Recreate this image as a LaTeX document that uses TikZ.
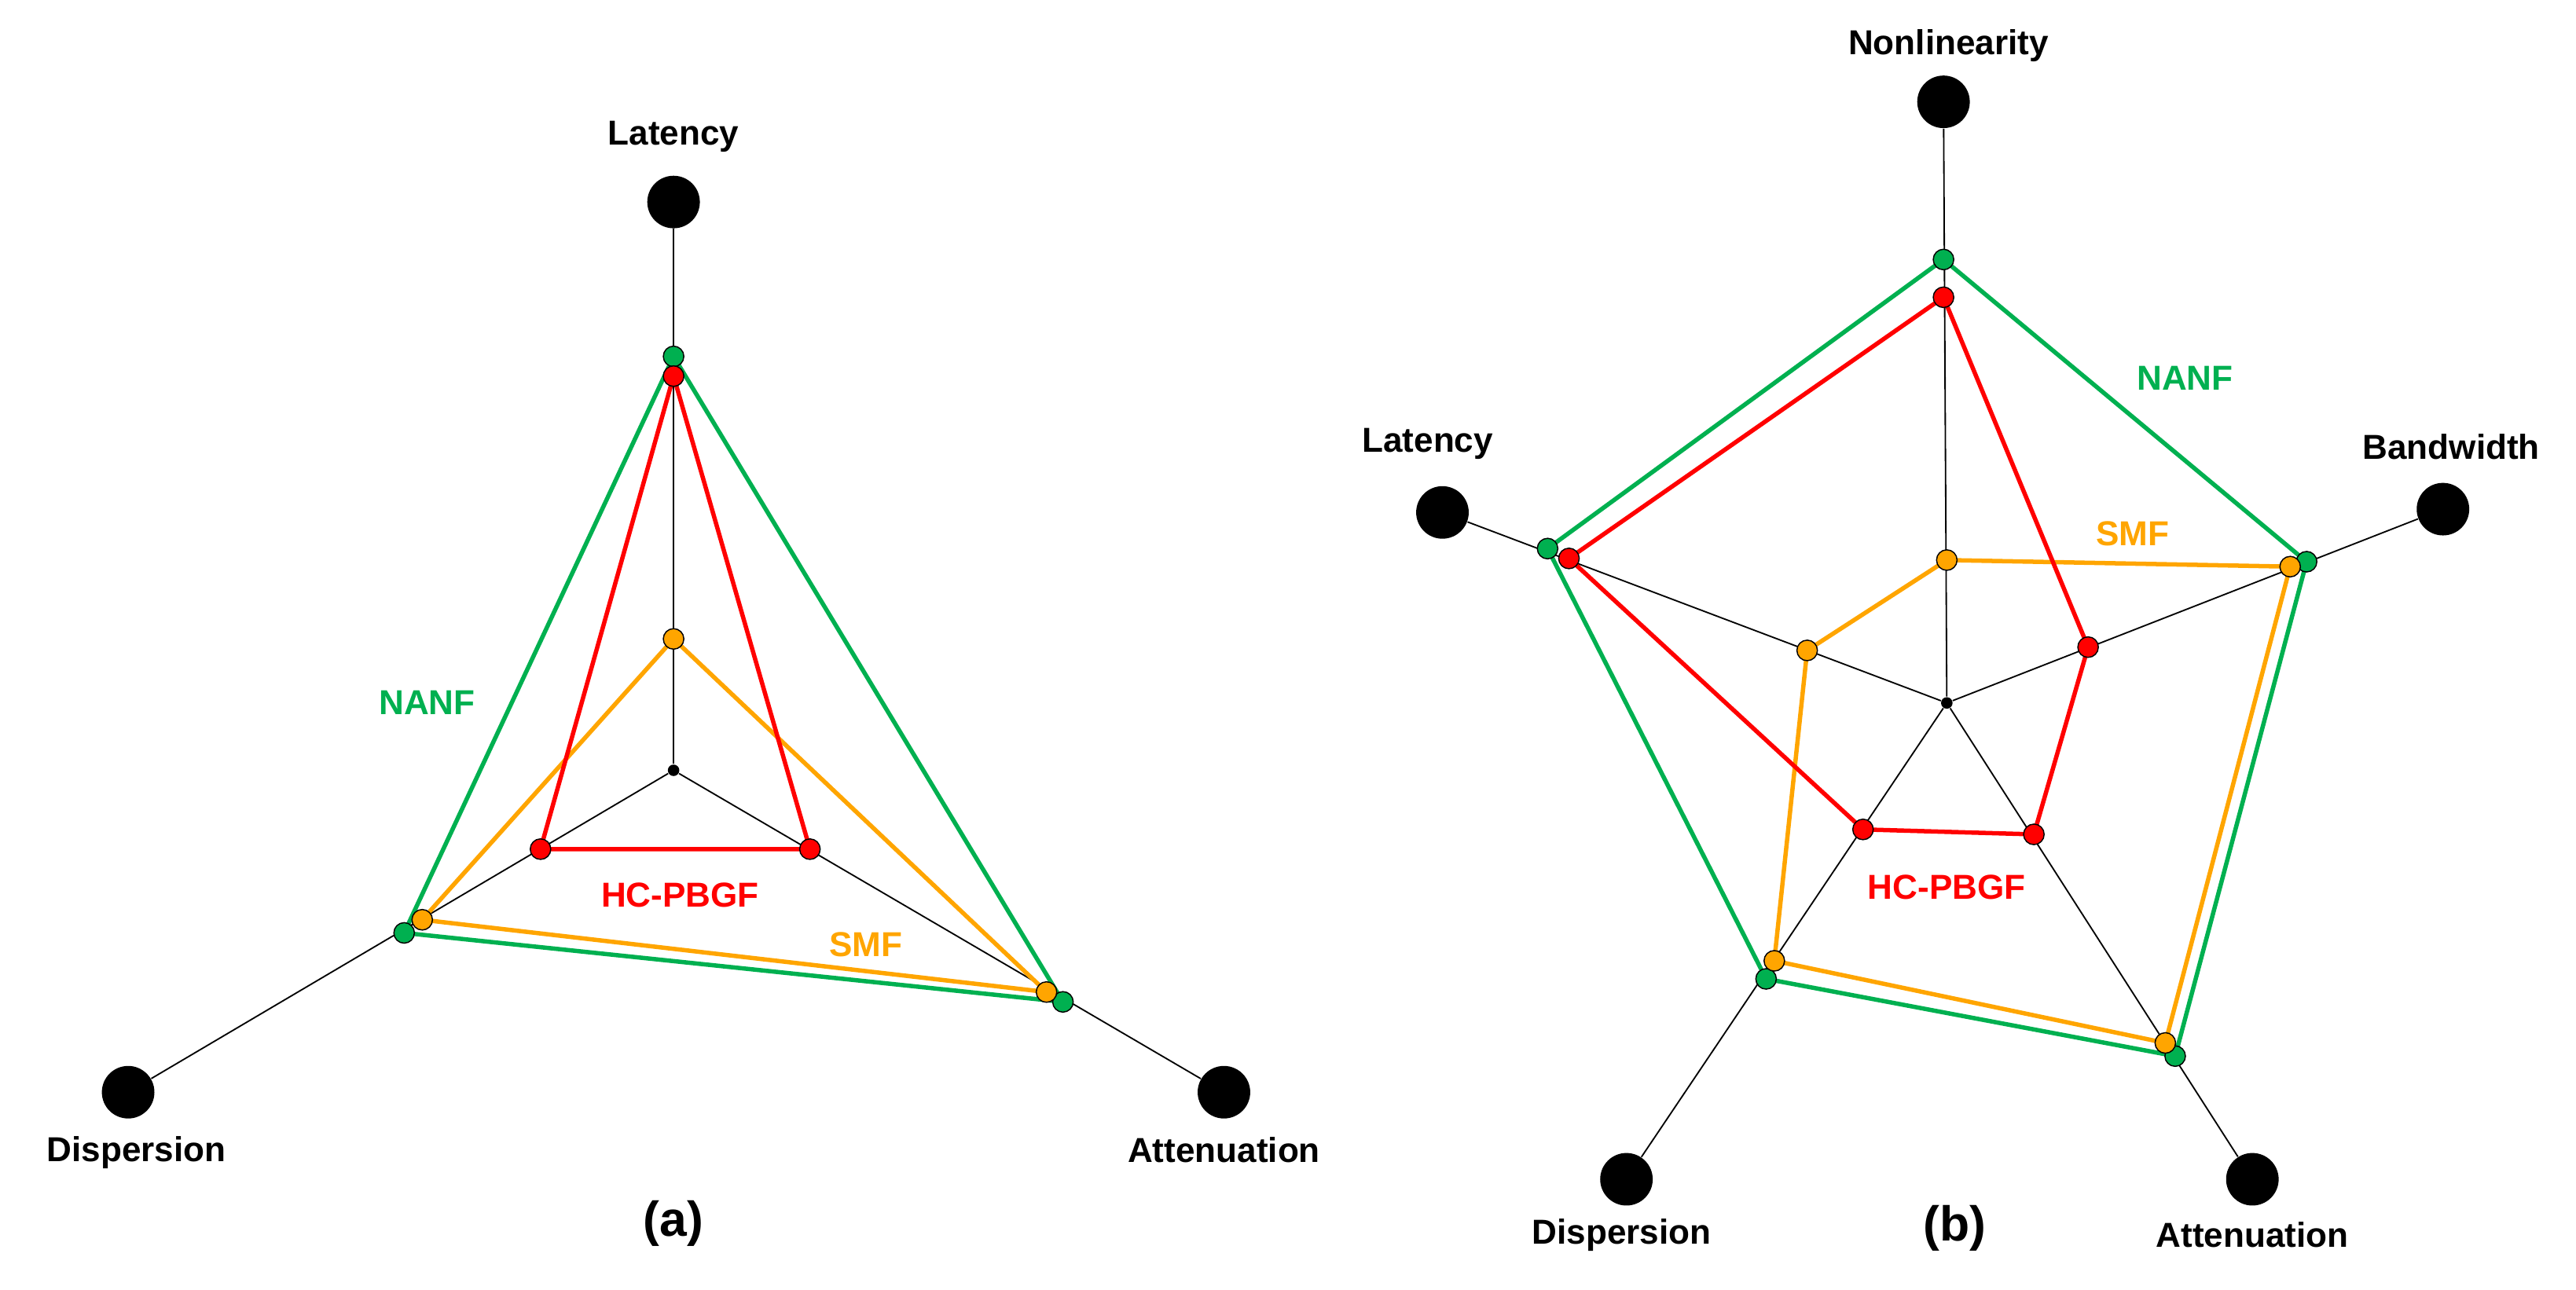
\documentclass[tikz,border=0pt]{standalone}
\usepackage{fontspec}
\setmainfont{Liberation Sans}
\usetikzlibrary{positioning}
\definecolor{nanfgreen}{RGB}{0,176,80}
\definecolor{pbgfred}{RGB}{255,0,0}
\definecolor{smforange}{RGB}{255,165,0}
\tikzset{
  axisdot/.style={circle, fill=black, inner sep=0pt, minimum size=0.64cm},
  hubdot/.style={circle, fill=black, inner sep=0pt, minimum size=0.14cm},
  valdot/.style={circle, draw=black, line width=0.4pt, fill=#1, inner sep=0pt, minimum size=0.25cm},
  spoke/.style={line width=0.5pt},
  trace/.style={line width=1.5pt, draw=#1},
  axislabel/.style={font=\fontsize{12}{14}\selectfont\bfseries},
  tracelabel/.style={font=\fontsize{12}{14}\selectfont\bfseries, text=#1},
  panel/.style={font=\fontsize{17}{20}\selectfont\bfseries}
}
\begin{document}
\begin{tikzpicture}[x=0.02cm, y=-0.02cm]
\useasboundingbox (0,0) rectangle (1568,785);
% panel (a)
\node[hubdot] (ac) at (410,469) {};
\node[axisdot] (alat) at (410,123) {};
\node[axisdot] (adis) at (78,665) {};
\node[axisdot] (aatt) at (745,665) {};
\foreach \t in {alat, adis, aatt} \draw[spoke] (ac) -- (\t);
\coordinate (ag1) at (410,217); \coordinate (ag2) at (246,568); \coordinate (ag3) at (647,610);
\coordinate (ar1) at (410,229); \coordinate (ar2) at (329,517); \coordinate (ar3) at (493,517);
\coordinate (ao1) at (410,389); \coordinate (ao2) at (257,560); \coordinate (ao3) at (637,604);
\draw[trace=smforange] (ao1) -- (ao2) -- (ao3) -- cycle;
\draw[trace=nanfgreen] (ag1) -- (ag2) -- (ag3) -- cycle;
\draw[trace=pbgfred] (ar1) -- (ar2) -- (ar3) -- cycle;
\foreach \p in {ag1, ag2, ag3} \node[valdot=nanfgreen] at (\p) {};
\foreach \p in {ar1, ar2, ar3} \node[valdot=pbgfred] at (\p) {};
\foreach \p in {ao1, ao2, ao3} \node[valdot=smforange] at (\p) {};
\node[axislabel] at (410,83) {Latency};
\node[axislabel] at (83,702) {Dispersion};
\node[axislabel] at (745,700) {Attenuation};
\node[tracelabel=nanfgreen] at (260,428) {NANF};
\node[tracelabel=pbgfred] at (414,545) {HC-PBGF};
\node[tracelabel=smforange] at (527,575) {SMF};
\node[panel] at (410,745) {(a)};
% panel (b)
\node[hubdot] (bc) at (1185,428) {};
\node[axisdot] (bnon) at (1183,62) {};
\node[axisdot] (blat) at (878,312) {};
\node[axisdot] (bbw) at (1487,310) {};
\node[axisdot] (bdis) at (990,718) {};
\node[axisdot] (batt) at (1371,718) {};
\foreach \t in {bnon, blat, bbw, bdis, batt} \draw[spoke] (bc) -- (\t);
\coordinate (bg1) at (1183,158); \coordinate (bg2) at (942,334); \coordinate (bg3) at (1075,596);
\coordinate (bg4) at (1324,643); \coordinate (bg5) at (1404,342);
\coordinate (br1) at (1183,181); \coordinate (br2) at (955,340); \coordinate (br3) at (1134,505);
\coordinate (br4) at (1238,508); \coordinate (br5) at (1271,394);
\coordinate (bo1) at (1185,341); \coordinate (bo2) at (1100,396); \coordinate (bo3) at (1080,585);
\coordinate (bo4) at (1318,635); \coordinate (bo5) at (1394,345);
\draw[trace=smforange] (bo1) -- (bo2) -- (bo3) -- (bo4) -- (bo5) -- cycle;
\draw[trace=nanfgreen] (bg1) -- (bg2) -- (bg3) -- (bg4) -- (bg5) -- cycle;
\draw[trace=pbgfred] (br1) -- (br2) -- (br3) -- (br4) -- (br5) -- cycle;
\foreach \p in {bg1, bg2, bg3, bg4, bg5} \node[valdot=nanfgreen] at (\p) {};
\foreach \p in {br1, br2, br3, br4, br5} \node[valdot=pbgfred] at (\p) {};
\foreach \p in {bo1, bo2, bo3, bo4, bo5} \node[valdot=smforange] at (\p) {};
\node[axislabel] at (1186,28) {Nonlinearity};
\node[axislabel] at (869,270) {Latency};
\node[axislabel] at (1492,272) {Bandwidth};
\node[axislabel] at (987,752) {Dispersion};
\node[axislabel] at (1371,752) {Attenuation};
\node[tracelabel=nanfgreen] at (1330,230) {NANF};
\node[tracelabel=smforange] at (1298,325) {SMF};
\node[tracelabel=pbgfred] at (1185,540) {HC-PBGF};
\node[panel] at (1190,748) {(b)};
\end{tikzpicture}
\end{document}
